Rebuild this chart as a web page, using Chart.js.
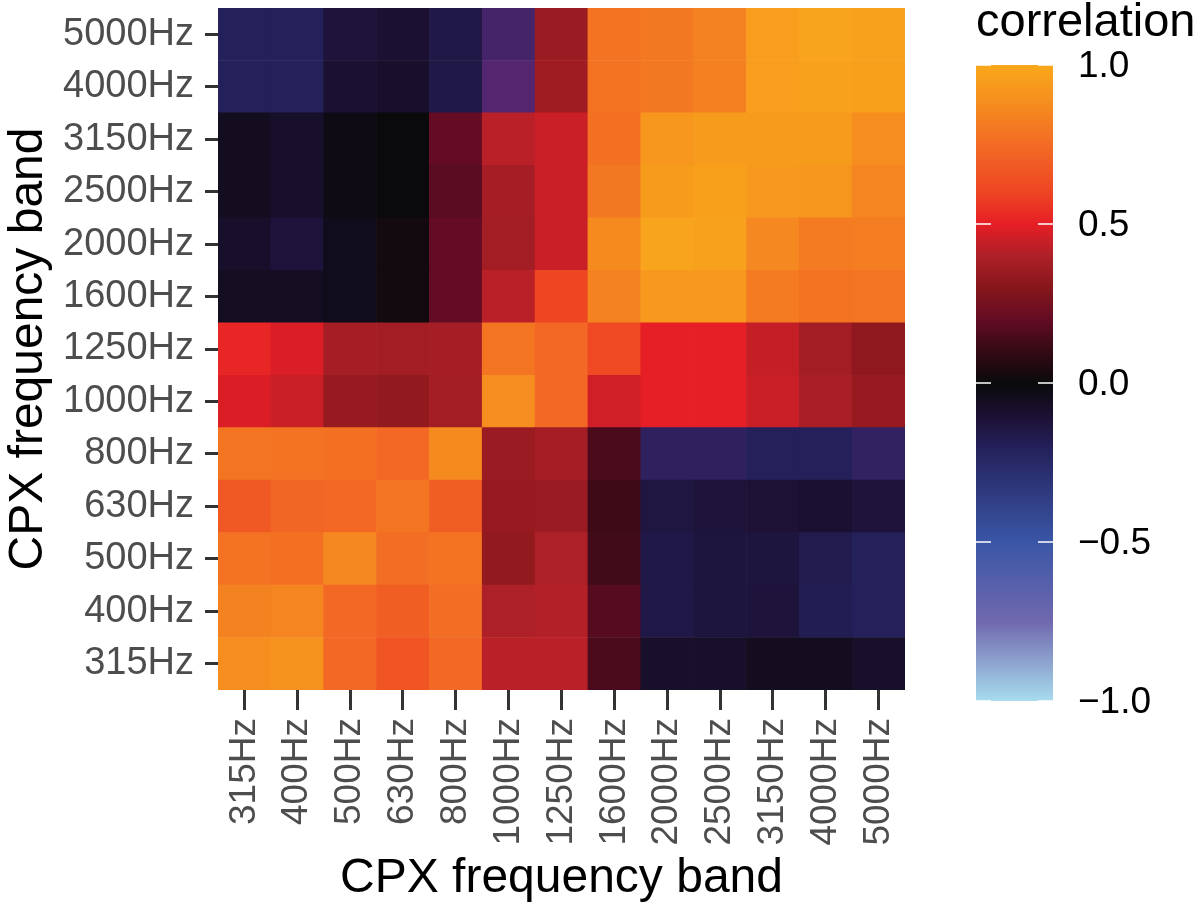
<!DOCTYPE html>
<html>
<head>
<meta charset="utf-8">
<script src="https://cdn.jsdelivr.net/npm/chart.js@4/dist/chart.umd.min.js"></script>
<style>
  body { margin: 0; background: #fff; }
</style>
</head>
<body>
<canvas id="heat" width="1200" height="908"></canvas>
<script>
const bands = ['315Hz', '400Hz', '500Hz', '630Hz', '800Hz', '1000Hz', '1250Hz',
  '1600Hz', '2000Hz', '2500Hz', '3150Hz', '4000Hz', '5000Hz']

// one row per band on the y axis (bottom to top), columns follow bands on x
const r315  = [0.88, 0.90, 0.74, 0.66, 0.74, 0.42, 0.42, 0.15, -0.08, -0.08, -0.05, -0.05, -0.08]
const r400  = [0.84, 0.85, 0.74, 0.70, 0.76, 0.40, 0.41, 0.17, -0.15, -0.13, -0.12, -0.18, -0.20]
const r500  = [0.78, 0.77, 0.86, 0.76, 0.78, 0.33, 0.40, 0.13, -0.15, -0.13, -0.13, -0.17, -0.20]
const r630  = [0.68, 0.73, 0.74, 0.79, 0.70, 0.34, 0.35, 0.12, -0.14, -0.12, -0.11, -0.10, -0.12]
const r800  = [0.79, 0.78, 0.77, 0.74, 0.87, 0.35, 0.38, 0.15, -0.22, -0.22, -0.20, -0.20, -0.23]
const r1000 = [0.48, 0.45, 0.34, 0.33, 0.37, 0.88, 0.74, 0.46, 0.50, 0.50, 0.45, 0.39, 0.34]
const r1250 = [0.52, 0.48, 0.38, 0.37, 0.38, 0.79, 0.74, 0.62, 0.50, 0.50, 0.44, 0.37, 0.32]
const r1600 = [-0.06, -0.06, -0.04, 0.02, 0.20, 0.42, 0.60, 0.84, 0.93, 0.93, 0.81, 0.78, 0.79]
const r2000 = [-0.08, -0.12, -0.04, 0.02, 0.20, 0.37, 0.45, 0.87, 0.98, 0.97, 0.86, 0.81, 0.82]
const r2500 = [-0.05, -0.08, -0.02, 0.00, 0.18, 0.38, 0.45, 0.80, 0.94, 0.96, 0.93, 0.92, 0.85]
const r3150 = [-0.05, -0.08, -0.02, 0.00, 0.20, 0.42, 0.45, 0.77, 0.92, 0.94, 0.94, 0.94, 0.88]
const r4000 = [-0.20, -0.20, -0.10, -0.08, -0.15, -0.30, 0.36, 0.78, 0.80, 0.83, 0.95, 0.97, 0.96]
const r5000 = [-0.20, -0.20, -0.12, -0.10, -0.15, -0.27, 0.35, 0.78, 0.80, 0.84, 0.95, 0.98, 0.97]
const rows = [r315, r400, r500, r630, r800, r1000, r1250, r1600, r2000, r2500, r3150, r4000, r5000]

const barTicks = [1.0, 0.5, 0.0, -0.5, -1.0]

// colour scale, value -> rgb
const stops = [
  [-1.0, [168, 220, 238]],
  [-0.75, [112, 104, 174]],
  [-0.5, [58, 86, 166]],
  [-0.3, [84, 38, 112]],
  [-0.2, [36, 32, 90]],
  [-0.1, [28, 16, 50]],
  [0.0, [10, 10, 12]],
  [0.1, [52, 10, 20]],
  [0.2, [100, 12, 36]],
  [0.3, [134, 22, 26]],
  [0.4, [174, 32, 40]],
  [0.5, [230, 30, 37]],
  [0.6, [238, 69, 35]],
  [0.75, [242, 107, 36]],
  [0.9, [246, 146, 30]],
  [1.0, [249, 168, 27]]
]

function colorFor(v) {
  for (let i = 1; i < stops.length; i++) {
    if (v <= stops[i][0]) {
      const [a, ca] = stops[i - 1]
      const [b, cb] = stops[i]
      const t = Math.max(0, (v - a) / (b - a))
      const c = ca.map((x, k) => Math.round(x + (cb[k] - x) * t))
      return 'rgb(' + c.join(',') + ')'
    }
  }
  return 'rgb(' + stops[stops.length - 1][1].join(',') + ')'
}

const font = "'Liberation Sans', Arial, sans-serif"

const colorbar = {
  id: 'colorbar',
  afterDraw(chart) {
    const ctx = chart.ctx
    const x0 = 976, x1 = 1053, top = 65, bottom = 701
    const yOf = v => bottom - (v + 1) / 2 * (bottom - top)
    ctx.save()
    const g = ctx.createLinearGradient(0, bottom, 0, top)
    // the bar itself uses a smoother ramp through blue
    const barStops = stops.filter(s => s[0] !== -0.3)
    barStops.forEach(([v, c]) => g.addColorStop((v + 1) / 2, 'rgb(' + c.join(',') + ')'))
    ctx.fillStyle = g
    ctx.fillRect(x0, top, x1 - x0, bottom - top)
    ctx.strokeStyle = '#fff'
    ctx.lineWidth = 1.5
    ctx.fillStyle = '#000'
    ctx.font = '37px ' + font
    ctx.textBaseline = 'middle'
    ctx.textAlign = 'left'
    barTicks.forEach(v => {
      const y = yOf(v)
      ctx.beginPath()
      ctx.moveTo(x0, y); ctx.lineTo(x0 + 15, y)
      ctx.moveTo(x1 - 15, y); ctx.lineTo(x1, y)
      ctx.stroke()
      ctx.fillText(v.toFixed(1).replace('-', '\u2212'), 1078, y + 2)
    })
    ctx.font = '47px ' + font
    ctx.textBaseline = 'alphabetic'
    ctx.fillText('correlation', 976, 36)
    ctx.restore()
  }
}

new Chart(document.getElementById('heat'), {
  type: 'bar',
  data: {
    labels: bands,
    datasets: rows.map((row, i) => ({
      label: bands[i],
      data: bands.map(() => 1),
      backgroundColor: row.map(colorFor),
      borderWidth: 0,
      barPercentage: 1,
      categoryPercentage: 1
    }))
  },
  options: {
    responsive: false,
    animation: false,
    events: [],
    layout: { padding: { top: 8, right: 295 } },
    plugins: {
      legend: { display: false },
      tooltip: { enabled: false }
    },
    scales: {
      x: {
        stacked: true,
        border: { display: false },
        grid: { offset: false, drawOnChartArea: false, tickLength: 20, tickColor: '#333', tickWidth: 3 },
        ticks: {
          autoSkip: false, minRotation: 90, maxRotation: 90, padding: 8,
          color: '#4d4d4d', font: { size: 37, family: font }
        },
        title: {
          display: true, text: 'CPX frequency band', color: '#000', padding: 0,
          font: { size: 48, family: font }
        },
        afterFit: s => { s.height = 218; s.paddingLeft = 0; s.paddingRight = 0 }
      },
      y: {
        stacked: true,
        min: 0,
        max: 13,
        border: { display: false },
        afterBuildTicks: s => { s.ticks = bands.map((b, i) => ({ value: i + 0.5 })) },
        grid: { drawOnChartArea: false, tickLength: 13, tickColor: '#333', tickWidth: 3 },
        ticks: {
          callback: (v, i) => bands[i], padding: 11,
          color: '#4d4d4d', font: { size: 38, family: font }
        },
        title: {
          display: true, text: 'CPX frequency band', color: '#000', padding: 0,
          font: { size: 48, family: font }
        },
        afterFit: s => { s.width = 218; s.paddingTop = 0; s.paddingBottom = 0 }
      }
    }
  },
  plugins: [colorbar]
})
</script>
</body>
</html>
